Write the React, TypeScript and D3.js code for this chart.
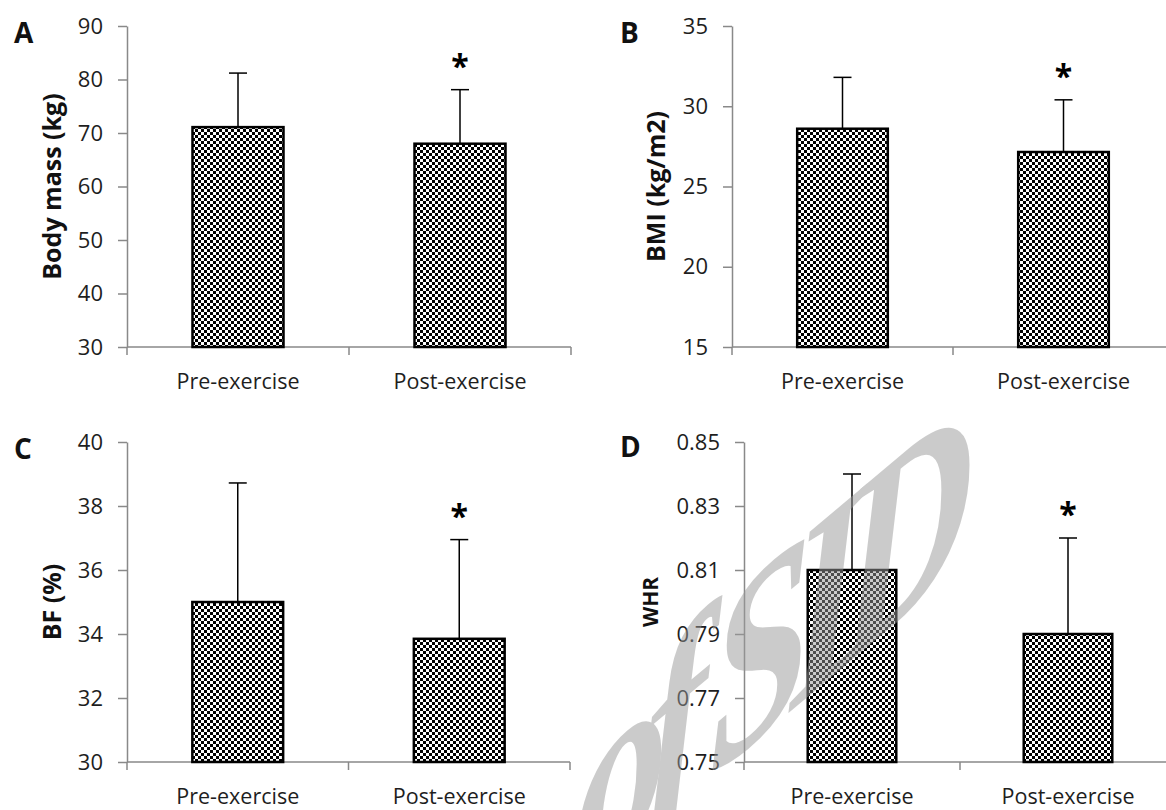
import { useEffect, useRef } from "react"
import * as d3 from "d3"

const categories = ["Pre-exercise", "Post-exercise"]
const significant = [false, true]

const bodyMassMean = [71.1, 68.0]
const bodyMassUpper = [81.2, 78.1]
const bodyMassTicks = [30, 40, 50, 60, 70, 80, 90]

const bmiMean = [28.6, 27.15]
const bmiUpper = [31.8, 30.4]
const bmiTicks = [15, 20, 25, 30, 35]

const bfMean = [35.0, 33.85]
const bfUpper = [38.72, 36.95]
const bfTicks = [30, 32, 34, 36, 38, 40]

const whrMean = [0.81, 0.79]
const whrUpper = [0.84, 0.82]
const whrTicks = [0.75, 0.77, 0.79, 0.81, 0.83, 0.85]

const FONT = "'Open Sans', 'Noto Sans', sans-serif"

export default function App() {
  const svgRef = useRef<SVGSVGElement>(null)

  useEffect(() => {
    if (!svgRef.current) return
    const svg = d3.select(svgRef.current)
    svg.selectAll("*").remove()

    // checkerboard fill like the Excel pattern
    const defs = svg.append("defs")
    const pat = defs
      .append("pattern")
      .attr("id", "checker")
      .attr("patternUnits", "userSpaceOnUse")
      .attr("width", 6)
      .attr("height", 6)
    pat.append("rect").attr("width", 6).attr("height", 6).attr("fill", "white")
    pat.append("rect").attr("width", 3).attr("height", 3).attr("fill", "black")
    pat.append("rect").attr("x", 3).attr("y", 3).attr("width", 3).attr("height", 3).attr("fill", "black")

    const panels = [
      { letter: "A", title: "Body mass (kg)", mean: bodyMassMean, upper: bodyMassUpper, ticks: bodyMassTicks, fmt: d3.format("d"),
        left: 127, right: 571, top: 26, bottom: 347, lx: 14, ly: 43, tx: 61, tsize: 25 },
      { letter: "B", title: "BMI (kg/m2)", mean: bmiMean, upper: bmiUpper, ticks: bmiTicks, fmt: d3.format("d"),
        left: 732, right: 1174, top: 26, bottom: 347, lx: 620, ly: 43, tx: 665, tsize: 25 },
      { letter: "C", title: "BF (%)", mean: bfMean, upper: bfUpper, ticks: bfTicks, fmt: d3.format("d"),
        left: 127, right: 570, top: 442, bottom: 762, lx: 14, ly: 459, tx: 61, tsize: 25 },
      { letter: "D", title: "WHR", mean: whrMean, upper: whrUpper, ticks: whrTicks, fmt: d3.format(".2f"),
        left: 744, right: 1176, top: 442, bottom: 762, lx: 620, ly: 457, tx: 658, tsize: 21 },
    ]

    panels.forEach((p) => {
      const g = svg.append("g")
      const y = d3
        .scaleLinear()
        .domain([p.ticks[0], p.ticks[p.ticks.length - 1]])
        .range([p.bottom, p.top])
      const x = d3.scaleBand().domain(categories).range([p.left, p.right]).padding(0)
      const barW = x.bandwidth() * 0.41
      const cx = (c: string) => (x(c) || 0) + x.bandwidth() / 2

      // y axis
      const yAxis = g
        .append("g")
        .attr("transform", `translate(${p.left},0)`)
        .call(d3.axisLeft(y).tickValues(p.ticks).tickFormat((d) => p.fmt(d as number)).tickSize(9).tickSizeOuter(0).tickPadding(15))
      yAxis.selectAll("text").attr("font-family", FONT).attr("font-size", 22).attr("fill", "#1e1e1e")
      yAxis.selectAll(".domain, .tick line").attr("stroke", "#898989").attr("stroke-width", 1.5)

      // x axis
      g.append("line")
        .attr("x1", p.left).attr("x2", p.right)
        .attr("y1", p.bottom).attr("y2", p.bottom)
        .attr("stroke", "#898989").attr("stroke-width", 1.5)
      const xt = [p.left, ...categories.map((c) => (x(c) || 0) + x.bandwidth())]
      g.selectAll(".xtick")
        .data(xt)
        .enter()
        .append("line")
        .attr("x1", (d) => d).attr("x2", (d) => d)
        .attr("y1", p.bottom).attr("y2", p.bottom + 8)
        .attr("stroke", "#898989").attr("stroke-width", 1.5)
      g.selectAll(".xlabel")
        .data(categories)
        .enter()
        .append("text")
        .attr("x", (d) => cx(d))
        .attr("y", p.bottom + 42)
        .attr("text-anchor", "middle")
        .attr("font-family", FONT)
        .attr("font-size", 21.5)
        .attr("fill", "#1e1e1e")
        .text((d) => d)

      // bars with upper error whiskers
      const rows = categories.map((c, i) => ({ c, m: p.mean[i], u: p.upper[i], s: significant[i] }))
      g.selectAll(".err")
        .data(rows)
        .enter()
        .append("line")
        .attr("x1", (d) => cx(d.c))
        .attr("x2", (d) => cx(d.c))
        .attr("y1", (d) => y(d.m))
        .attr("y2", (d) => y(d.u))
        .attr("stroke", "black").attr("stroke-width", 1.5)
      g.selectAll(".cap")
        .data(rows)
        .enter()
        .append("line")
        .attr("x1", (d) => cx(d.c) - 9)
        .attr("x2", (d) => cx(d.c) + 9)
        .attr("y1", (d) => y(d.u))
        .attr("y2", (d) => y(d.u))
        .attr("stroke", "black").attr("stroke-width", 1.5)
      g.selectAll(".bar")
        .data(rows)
        .enter()
        .append("rect")
        .attr("x", (d) => (x(d.c) || 0) + (x.bandwidth() - barW) / 2)
        .attr("y", (d) => y(d.m))
        .attr("width", barW)
        .attr("height", (d) => p.bottom - y(d.m))
        .attr("fill", "url(#checker)")
        .attr("stroke", "black")
        .attr("stroke-width", 2.5)
      g.selectAll(".star")
        .data(rows.filter((d) => d.s))
        .enter()
        .append("text")
        .attr("x", (d) => cx(d.c))
        .attr("y", (d) => y(d.u) - 12)
        .attr("text-anchor", "middle")
        .attr("font-family", FONT)
        .attr("font-weight", "bold")
        .attr("font-size", 32)
        .text("*")

      // axis title and panel letter
      g.append("text")
        .attr("transform", `translate(${p.tx},${(p.top + p.bottom) / 2}) rotate(-90)`)
        .attr("text-anchor", "middle")
        .attr("font-family", FONT)
        .attr("font-weight", "bold")
        .attr("font-size", p.tsize)
        .attr("fill", "#111")
        .text(p.title)
      g.append("text")
        .attr("x", p.lx)
        .attr("y", p.ly)
        .attr("font-family", FONT)
        .attr("font-weight", "bold")
        .attr("font-size", 28)
        .attr("fill", "#111")
        .text(p.letter)
    })

    // watermark
    svg.append("text")
      .attr("transform", "translate(575,892) skewY(-40) scale(1,1.35)")
      .attr("font-family", "'Liberation Serif', serif")
      .attr("font-style", "italic")
      .attr("font-weight", "bold")
      .attr("font-size", 185)
      .attr("letter-spacing", -22)
      .attr("fill", "#999")
      .attr("opacity", 0.5)
      .text("of SID")
  }, [])

  return (
    <svg
      ref={svgRef}
      width={1166}
      height={810}
      style={{ position: "absolute", left: 0, top: 0, background: "white" }}
    />
  )
}
